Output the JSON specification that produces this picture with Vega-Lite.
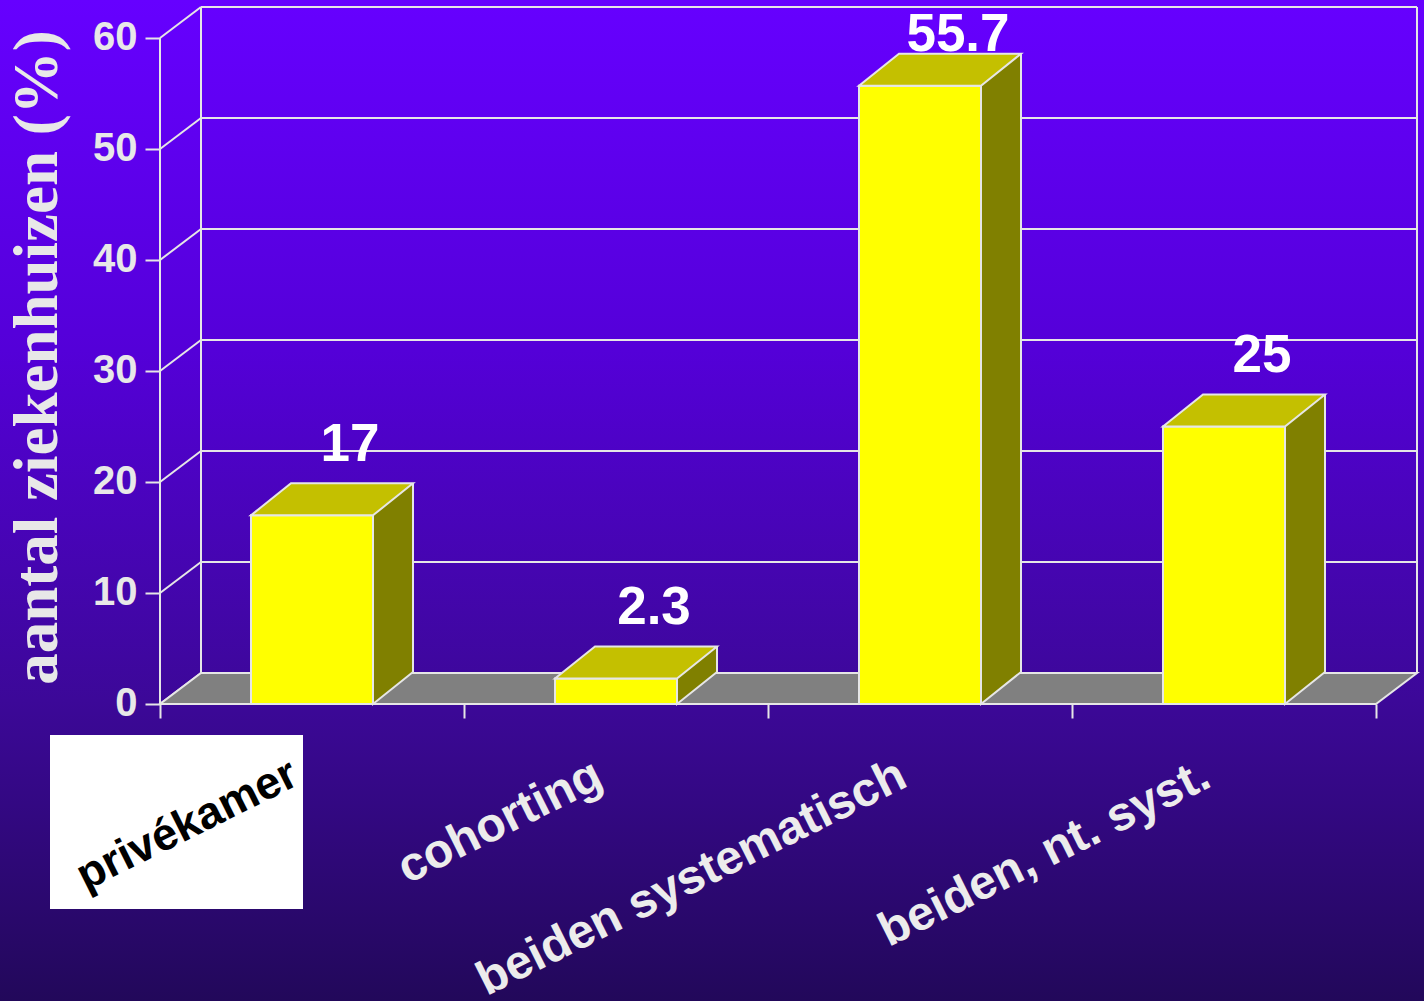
{
  "$schema": "https://vega.github.io/schema/vega-lite/v6.json",
  "width": 1424,
  "height": 1001,
  "autosize": {"type": "none"},
  "padding": 0,
  "background": "#22085a",
  "config": {"view": {"stroke": null}},
  "resolve": {"axis": {"x": "independent", "y": "independent"}},
  "datasets": {
    "bars": [
      {"cat": "privékamer", "value": 17},
      {"cat": "cohorting", "value": 2.3},
      {"cat": "beiden systematisch", "value": 55.7},
      {"cat": "beiden, nt. syst.", "value": 25}
    ],
    "ticks": [{"v": 0}, {"v": 10}, {"v": 20}, {"v": 30}, {"v": 40}, {"v": 50}, {"v": 60}],
    "one": [{}]
  },
  "data": {"name": "bars"},
  "layer": [
    {
      "data": {"name": "one"},
      "mark": {"type": "rect", "color": {"gradient": "linear", "x1": 0, "y1": 0, "x2": 0, "y2": 1,
        "stops": [
          {"offset": 0, "color": "#6600ff"},
          {"offset": 0.35, "color": "#5400d8"},
          {"offset": 0.7, "color": "#3c0898"},
          {"offset": 1, "color": "#22085a"}
        ]}},
      "encoding": {}
    },
    {
      "data": {"name": "ticks"},
      "mark": {"type": "rule", "color": "#e6e6e6", "strokeWidth": 2, "xOffset": -111, "x2Offset": 193, "yOffset": -31},
      "encoding": {
        "x": {"datum": "privékamer", "type": "nominal", "scale": {"type": "band", "domain": ["privékamer", "cohorting", "beiden systematisch", "beiden, nt. syst."], "paddingInner": 0, "paddingOuter": 0.34211, "align": 0.76923}, "axis": null},
        "x2": {"datum": "beiden, nt. syst."},
        "y": {"field": "v", "type": "quantitative", "scale": {"type": "linear", "domain": [-26.7568, 63.4234], "nice": false, "zero": false}, "axis": null}
      }
    },
    {
      "data": {"name": "one"},
      "mark": {"type": "rule", "color": "#e6e6e6", "strokeWidth": 2, "xOffset": -111, "yOffset": -31, "y2Offset": -31},
      "encoding": {
        "x": {"datum": "privékamer", "type": "nominal", "axis": null},
        "y": {"datum": 0, "type": "quantitative", "axis": null},
        "y2": {"datum": 60}
      }
    },
    {
      "data": {"name": "one"},
      "mark": {"type": "rule", "color": "#e6e6e6", "strokeWidth": 2, "xOffset": 193, "yOffset": -31, "y2Offset": -31},
      "encoding": {
        "x": {"datum": "beiden, nt. syst.", "type": "nominal", "axis": null},
        "y": {"datum": 0, "type": "quantitative", "axis": null},
        "y2": {"datum": 60}
      }
    },
    {
      "data": {"name": "ticks"},
      "mark": {"type": "rule", "color": "#e6e6e6", "strokeWidth": 2, "xOffset": -152, "x2Offset": -111, "y2Offset": -31},
      "encoding": {
        "x": {"datum": "privékamer", "type": "nominal", "axis": null},
        "x2": {"datum": "privékamer"},
        "y": {"field": "v", "type": "quantitative", "axis": null},
        "y2": {"field": "v"}
      }
    },
    {
      "data": {"name": "one"},
      "mark": {"type": "rule", "color": "#e6e6e6", "strokeWidth": 2, "xOffset": -152},
      "encoding": {
        "x": {"datum": "privékamer", "type": "nominal", "axis": null},
        "y": {"datum": 0, "type": "quantitative", "axis": null},
        "y2": {"datum": 60}
      }
    },
    {
      "data": {"name": "one"},
      "mark": {"type": "point", "shape": "M-152,0L1064,0L1105,-31L-111,-31Z", "size": 4, "filled": true, "fill": "#808080", "stroke": "#e6e6e6", "strokeWidth": 2, "opacity": 1, "fillOpacity": 1, "strokeJoin": "miter"},
      "encoding": {
        "x": {"datum": "privékamer", "type": "nominal", "axis": null},
        "y": {"datum": 0, "type": "quantitative", "axis": null}
      }
    },
    {
      "data": {"name": "one"},
      "mark": {"type": "bar", "color": "#ffffff", "width": 253, "xOffset": -135.5},
      "encoding": {
        "x": {"datum": "privékamer", "type": "nominal", "axis": null},
        "y": {"datum": -2.793, "type": "quantitative", "axis": null},
        "y2": {"datum": -18.468}
      }
    },
    {
      "mark": {"type": "bar", "color": "#808000", "width": 40, "xOffset": 81, "yOffset": -32, "y2Offset": -32},
      "encoding": {
        "x": {"field": "cat", "type": "nominal", "axis": null},
        "y": {"field": "value", "type": "quantitative", "axis": null},
        "y2": {"datum": 0}
      }
    },
    {
      "mark": {"type": "point", "shape": "M101,-32L61,0L61,-32", "size": 4, "filled": true, "fill": "#808000", "stroke": "#e6e6e6", "strokeWidth": 2, "opacity": 1, "fillOpacity": 1},
      "encoding": {
        "x": {"field": "cat", "type": "nominal", "axis": null},
        "y": {"datum": 0, "type": "quantitative", "axis": null}
      }
    },
    {
      "mark": {"type": "rule", "color": "#e6e6e6", "strokeWidth": 2, "xOffset": 101, "yOffset": -32, "y2Offset": -32},
      "encoding": {
        "x": {"field": "cat", "type": "nominal", "axis": null},
        "y": {"field": "value", "type": "quantitative", "axis": null},
        "y2": {"datum": 0}
      }
    },
    {
      "mark": {"type": "bar", "fill": "#ffff00", "stroke": "#e6e6e6", "strokeWidth": 2, "width": 122},
      "encoding": {
        "x": {"field": "cat", "type": "nominal", "sort": null,
          "axis": {"orient": "bottom", "offset": -297, "zindex": 1, "title": null, "domain": false, "grid": false,
            "tickBand": "extent", "tickSize": 14, "tickWidth": 2, "tickColor": "#e6e6e6",
            "labelAngle": -26.5, "labelAlign": "right", "labelBaseline": "top", "labelPadding": 33, "labelOffset": -28,
            "labelFont": "Liberation Sans", "labelFontWeight": "bold", "labelLimit": 0,
            "labelFontSize": {"condition": {"test": "datum.value === 'privékamer'", "value": 45}, "value": 48},
            "labelOverlap": false, "labelFlush": false, "labelBound": false,
            "labelColor": {"condition": {"test": "datum.value === 'privékamer'", "value": "#000000"}, "value": "#ececec"}}},
        "y": {"field": "value", "type": "quantitative",
          "axis": {"orient": "left", "offset": -160, "zindex": 1, "domain": false, "grid": false,
            "values": [0, 10, 20, 30, 40, 50, 60], "tickSize": 15, "tickWidth": 2, "tickColor": "#e6e6e6",
            "labelFont": "Liberation Sans", "labelFontWeight": "bold", "labelFontSize": 40, "labelColor": "#e8e8e8",
            "labelPadding": 8, "labelBaseline": "middle", "labelFlush": false, "labelOverlap": false, "labelBound": false,
            "title": "aantal ziekenhuizen (%)", "titleFont": "Liberation Serif", "titleFontWeight": "bold", "titleFontSize": 63,
            "titleColor": "#e8e8e8", "titleX": -104, "titleY": 357, "titleAngle": -90, "titleBaseline": "alphabetic", "titleAlign": "center", "titleLimit": 2000}},
        "y2": {"datum": 0}
      }
    },
    {
      "mark": {"type": "point", "shape": "M-61,0L61,0L101,-32L-21,-32Z", "size": 4, "filled": true, "fill": "#c4c000", "stroke": "#e6e6e6", "strokeWidth": 2, "opacity": 1, "fillOpacity": 1},
      "encoding": {
        "x": {"field": "cat", "type": "nominal", "axis": null},
        "y": {"field": "value", "type": "quantitative", "axis": null}
      }
    },
    {
      "mark": {"type": "text", "font": "Liberation Sans", "fontWeight": "bold", "fontSize": 53, "fill": "#ffffff", "dx": 38, "dy": {"expr": "datum.value > 50 ? -35 : -54"}, "baseline": "alphabetic", "align": "center"},
      "encoding": {
        "x": {"field": "cat", "type": "nominal", "axis": null},
        "y": {"field": "value", "type": "quantitative", "axis": null},
        "text": {"field": "value", "type": "quantitative", "format": ".1~f"}
      }
    }
  ]
}
